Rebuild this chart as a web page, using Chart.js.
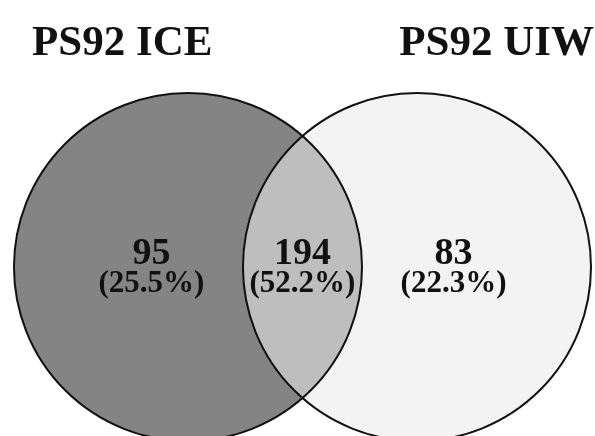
<!DOCTYPE html>
<html>
<head>
<meta charset="utf-8">
<script src="https://cdn.jsdelivr.net/npm/chart.js@4.4.1/dist/chart.umd.min.js"></script>
<style>
  html, body { margin: 0; padding: 0; background: #fff; }
  #venn { display: block; }
</style>
</head>
<body>
<canvas id="venn" width="595" height="436"></canvas>
<script>
// sets and region counts (left only, shared, right only)
var setNames = ['PS92 ICE', 'PS92 UIW'];
var regionCounts = [95, 194, 83];
var regionShares = ['25.5%', '52.2%', '22.3%'];
// circle centres on the x axis, in units of half the centre distance
var setCentres = [-1, 1];
var setRadius = 1.52;

var serif = "'Liberation Serif', 'Times New Roman', serif";

var vennLabels = {
    id: 'vennLabels',
    afterDatasetsDraw: function (chart) {
        var c = chart.ctx;
        var x = chart.scales.x, y = chart.scales.y;
        var r = x.getPixelForValue(setRadius) - x.getPixelForValue(0);
        var cy = y.getPixelForValue(0);
        var lx = x.getPixelForValue(setCentres[0]);
        var rx = x.getPixelForValue(setCentres[1]);
        var xs = [lx - r * 0.21, (lx + rx) / 2, rx + r * 0.21];

        c.save();
        c.fillStyle = '#111';
        c.textAlign = 'center';
        c.textBaseline = 'alphabetic';
        for (var i = 0; i < regionCounts.length; i++) {
            c.font = 'bold 38px ' + serif;
            c.fillText(String(regionCounts[i]), xs[i], cy - 3);
            c.font = 'bold 31px ' + serif;
            c.fillText('(' + regionShares[i] + ')', xs[i], cy + 25);
        }

        c.font = 'bold 43px ' + serif;
        c.textAlign = 'left';
        c.fillText(setNames[0], 32, 55);
        c.textAlign = 'right';
        c.fillText(setNames[1], 594, 55);
        c.restore();
    }
};

function centrePoints() {
    return setCentres.map(function (v) { return { x: v, y: 0, r: 1 }; });
}

var chart = new Chart(document.getElementById('venn'), {
    type: 'bubble',
    data: {
        datasets: [
            {
                // left set, drawn first
                data: [centrePoints()[0]],
                backgroundColor: '#848484',
                borderWidth: 0,
                clip: false,
                order: 3
            },
            {
                // right set, see-through so the overlap comes out mid grey
                data: [centrePoints()[1]],
                backgroundColor: 'rgba(234, 234, 234, 0.569)',
                borderWidth: 0,
                clip: false,
                order: 2
            },
            {
                // outlines on top
                data: centrePoints(),
                backgroundColor: 'rgba(0, 0, 0, 0)',
                borderColor: '#111',
                borderWidth: 2,
                clip: false,
                order: 1
            }
        ]
    },
    options: {
        responsive: false,
        animation: false,
        events: [],
        layout: { autoPadding: false, padding: 0 },
        plugins: {
            legend: { display: false },
            tooltip: { enabled: false }
        },
        scales: {
            x: { type: 'linear', display: false, min: -2.642, max: 2.555 },
            y: { type: 'linear', display: false, min: -1.476, max: 2.332 }
        }
    },
    plugins: [vennLabels]
});

// bubble r is in pixels, so size the circles from the x scale once it is laid out
var xs = chart.scales.x;
var rPx = xs.getPixelForValue(setRadius) - xs.getPixelForValue(0);
chart.data.datasets.forEach(function (ds) {
    ds.data.forEach(function (p) { p.r = rPx; });
});
chart.update();
</script>
</body>
</html>
